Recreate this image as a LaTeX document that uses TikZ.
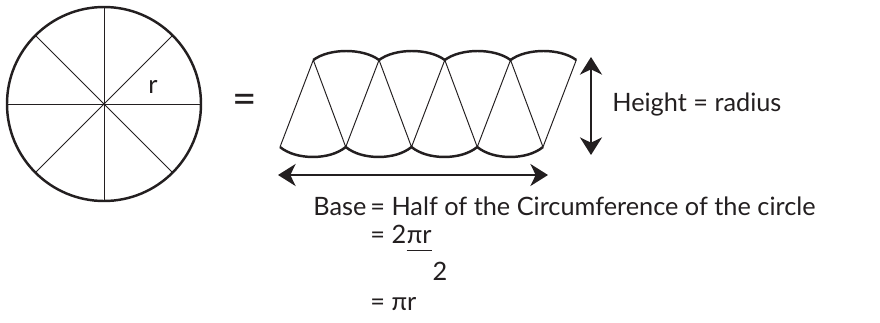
\documentclass[tikz,border=0pt]{standalone}
\usepackage{fontspec}
\setmainfont{Lato}
\usetikzlibrary{arrows.meta}
\definecolor{my_ink}{HTML}{231F20}

\begin{document}
\begin{tikzpicture}[
    x=0.02cm, y=-0.02cm,
    every node/.style={font=\fontsize{14.4}{17}\selectfont, text=my_ink, inner sep=0pt},
    spoke/.style={my_ink, line width=0.55pt},
    rim/.style={my_ink, line width=1.4pt},
    dbl/.style={{Stealth[length=10pt, width=12.5pt, inset=3pt]}-{Stealth[length=10pt, width=12.5pt, inset=3pt]},
        line width=1.5pt, my_ink}
]
\useasboundingbox (0, 0) rectangle (880, 322);

% ---------------------------------------------------------------
%  Kreis in 8 Sektoren, daneben die Sektoren abwechselnd
%  aneinandergelegt: Hoehe = Radius, Grundseite = halber Umfang
% ---------------------------------------------------------------

% ---- Kreis ----
\coordinate (c) at (104, 104);
\draw[rim] (c) circle[radius=97];
\foreach \a in {0, 45, ..., 315}
    \draw[spoke] (c) -- ++(\a:97);
\fill[my_ink] (c) circle[radius=1.3];
\node (r) at (153, 87) {r};
\node[font=\fontsize{24}{28}\selectfont] (eq) at (244.5, 104) {=};

% ---- Sektoren ----
\foreach \k in {0, ..., 4} {
    \coordinate (t\k) at (313.3 + 65.75*\k, 60);
    \coordinate (b\k) at (280 + 65.75*\k, 147);
}
\draw[spoke] (b0) -- (t0) -- (b1) -- (t1) -- (b2) -- (t2) -- (b3) -- (t3) -- (b4) -- (t4);
\foreach \k [evaluate=\k as \n using int(\k+1)] in {0, ..., 3} {
    \draw[rim] (t\k) .. controls +(16, -12) and +(-16, -12) .. (t\n);
    \draw[rim] (b\k) .. controls +(16, 13.3) and +(-16, 13.3) .. (b\n);
}

% ---- Pfeile ----
\coordinate (hTop) at (591, 57);
\coordinate (hBot) at (591, 155);
\draw[dbl] (hTop) -- (hBot);
\coordinate (bL) at (278, 175);
\coordinate (bR) at (548, 175);
\draw[dbl] (bL) -- (bR);

\node[anchor=base west] (height) at (612, 111) {Height = radius};

% ---- Rechnung ----
\node[anchor=base west] (base) at (313, 215) {Base};
\node[anchor=base west] (half) at (370, 215) {= Half of the Circumference of the circle};
\node[anchor=base west] (two) at (370, 243) {= 2};
\node[anchor=base west] (pr) at (two.base east) {πr};
\draw[spoke] ([yshift=-4pt]pr.base west) -- ([yshift=-4pt]pr.base east);
\node[anchor=base] (den) at (440, 280) {2};
\node[anchor=base west] (res) at (370, 310) {= πr};

\end{tikzpicture}
\end{document}
